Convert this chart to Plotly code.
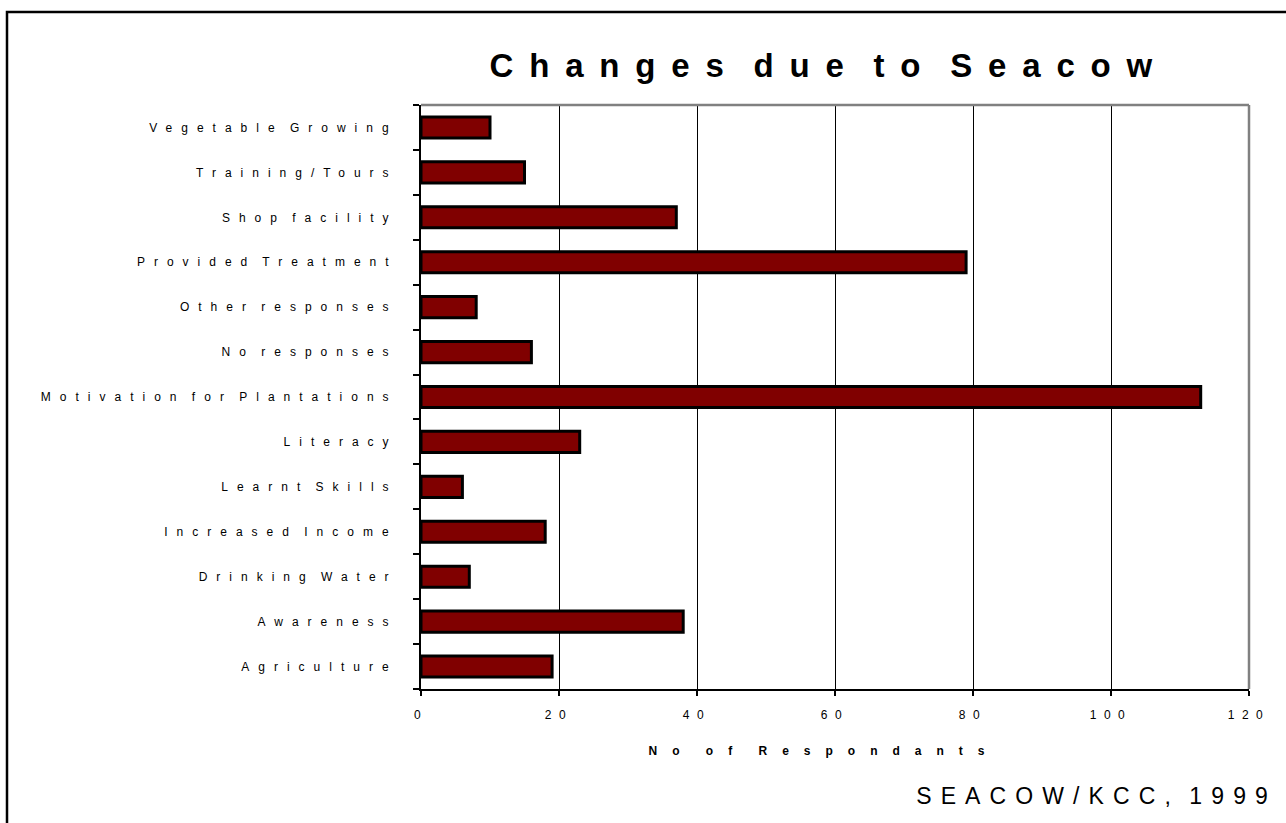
import plotly.graph_objects as go

categories = ["Agriculture", "Awareness", "Drinking Water", "Increased Income",
              "Learnt Skills", "Literacy", "Motivation for Plantations",
              "No responses", "Other responses", "Provided Treatment",
              "Shop facility", "Training/Tours", "Vegetable Growing"]
values = [19, 38, 7, 18, 6, 23, 113, 16, 8, 79, 37, 15, 10]
x_ticks = [0, 20, 40, 60, 80, 100, 120]

title_text = "Changes due to Seacow"
x_title = "No of Respondants"
footer = "SEACOW/KCC, 1999"

FONT = "Arial, 'Liberation Sans', sans-serif"

fig = go.Figure()
fig.add_trace(go.Bar(
    x=values, y=categories, orientation="h",
    marker=dict(color="#800000", line=dict(color="black", width=3)),
    hoverinfo="x+y",
))

fig.update_layout(
    width=1286, height=823,
    template="none",
    paper_bgcolor="white", plot_bgcolor="white",
    margin=dict(l=421, r=37, t=105, b=134, autoexpand=False),
    showlegend=False,
    bargap=0.53,
    font=dict(family=FONT, color="black", size=12),
    xaxis=dict(
        range=[0, 120], tickvals=x_ticks, ticktext=[str(v) for v in x_ticks],
        showgrid=True, gridcolor="black", gridwidth=1,
        showline=True, linecolor="black", linewidth=2,
        ticks="outside", ticklen=5, tickcolor="black", tickwidth=1.5,
        tickfont=dict(family=FONT, size=12, color="black"),
        ticklabelstandoff=9,
        zeroline=False, automargin=False, fixedrange=True,
    ),
    yaxis=dict(
        type="category", categoryorder="array", categoryarray=categories,
        range=[-0.5, len(categories) - 0.5],
        showgrid=False, showline=True, linecolor="black", linewidth=2,
        ticks="outside", ticklen=6, tickcolor="black", tickwidth=1.5,
        tickson="boundaries",
        tickfont=dict(family=FONT, size=12, color="black"),
        ticklabelstandoff=19,
        zeroline=False, automargin=False, fixedrange=True,
    ),
    shapes=[
        # grey plot-area top and right border
        dict(type="line", xref="paper", yref="paper", x0=0, x1=1, y0=1, y1=1,
             line=dict(color="#808080", width=2.5)),
        dict(type="line", xref="paper", yref="paper", x0=1, x1=1, y0=0, y1=1,
             line=dict(color="#808080", width=2.5)),
        # outer frame
        dict(type="rect", xref="paper", yref="paper",
             x0=(7 - 421) / 828, x1=(1295 - 421) / 828,
             y0=(689 - 835) / 584, y1=(689 - 12) / 584,
             line=dict(color="black", width=2.5), fillcolor="rgba(0,0,0,0)",
             layer="below"),
    ],
    annotations=[
        dict(text="<b>" + title_text + "</b>", xref="paper", yref="paper",
             x=(829 - 421) / 828, y=(689 - 66) / 584,
             xanchor="center", yanchor="middle", showarrow=False,
             font=dict(family=FONT, size=33, color="black")),
        dict(text=footer, xref="paper", yref="paper",
             x=(1096 - 421) / 828, y=(689 - 796) / 584,
             xanchor="center", yanchor="middle", showarrow=False,
             font=dict(family=FONT, size=23, color="black")),
        dict(text="<b>" + x_title + "</b>", xref="paper", yref="paper",
             x=(824 - 421) / 828, y=(689 - 751) / 584,
             xanchor="center", yanchor="middle", showarrow=False,
             font=dict(family=FONT, size=12, color="black")),
    ],
)

post = """
var gd = document.getElementById('{plot_id}');
function st(sel, ls, ws){
  gd.querySelectorAll(sel).forEach(function(t){
    t.style.letterSpacing = ls; t.style.wordSpacing = ws;
  });
}
function ls(){
  st('.ytick text', '9px', '-6px');
  st('.xtick text', '7.5px', '0px');
  st('.annotation[data-index="0"] text', '15.8px', '-11px');
  st('.annotation[data-index="1"] text', '9.1px', '-6px');
  st('.annotation[data-index="2"] text', '15px', '-7px');
}
ls();
gd.on('plotly_afterplot', ls);
"""

fig.write_html("out.html", post_script=post, config={"displayModeBar": False})
